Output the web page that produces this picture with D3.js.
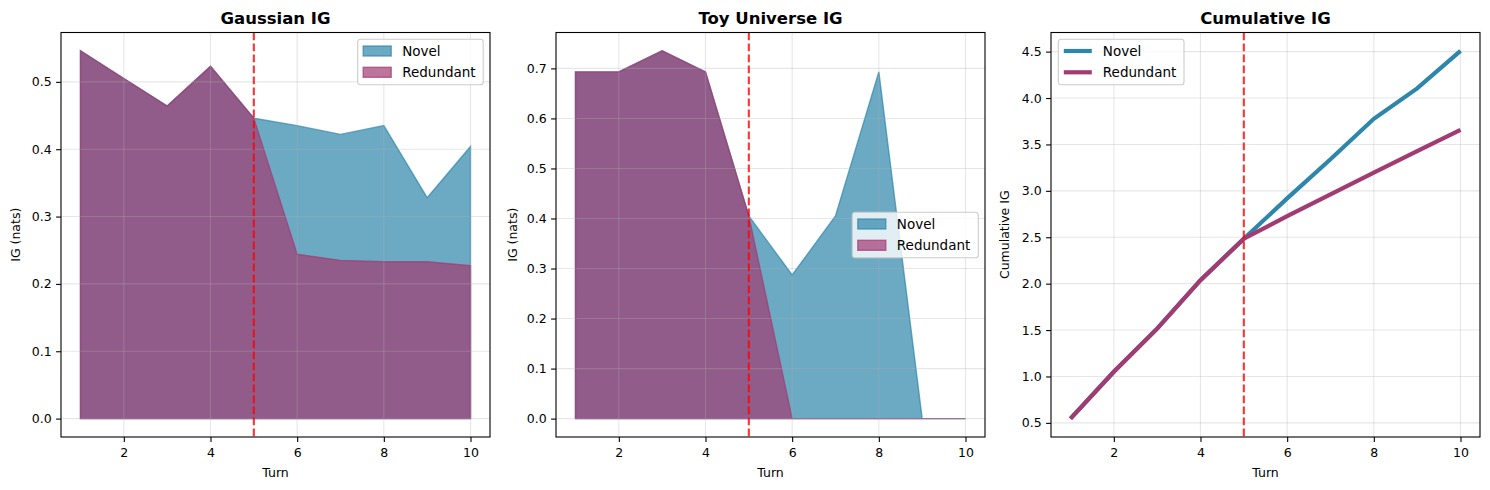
<!DOCTYPE html>
<html>
<head>
<meta charset="utf-8">
<script src="https://cdn.jsdelivr.net/npm/d3@7"></script>
<style>
  body { margin: 0; background: #fff; }
  svg { display: block; font-family: "DejaVu Sans", sans-serif; }
</style>
</head>
<body>
<div id="chart"></div>
<script>
// values
var turns = [1, 2, 3, 4, 5, 6, 7, 8, 9, 10];
var gaussNovel     = [0.546, 0.505, 0.464, 0.523, 0.446, 0.435, 0.422, 0.435, 0.328, 0.404];
var gaussRedundant = [0.546, 0.505, 0.464, 0.523, 0.446, 0.244, 0.235, 0.233, 0.233, 0.227];
var toyNovel       = [0.693, 0.693, 0.735, 0.693, 0.405, 0.287, 0.405, 0.693, 0, 0];
var toyRedundant   = [0.693, 0.693, 0.735, 0.693, 0.405, 0, 0, 0, 0, 0];
var cumNovel       = [0.546, 1.051, 1.515, 2.038, 2.484, 2.919, 3.341, 3.776, 4.104, 4.508];
var cumRedundant   = [0.546, 1.051, 1.515, 2.038, 2.484, 2.728, 2.963, 3.196, 3.429, 3.656];
var xTicks = [2, 4, 6, 8, 10];
var gaussTicks = [0, 0.1, 0.2, 0.3, 0.4, 0.5];
var toyTicks = [0, 0.1, 0.2, 0.3, 0.4, 0.5, 0.6, 0.7];
var cumTicks = [0.5, 1, 1.5, 2, 2.5, 3, 3.5, 4, 4.5];
var seriesNames = ['Novel', 'Redundant'];
var switchTurn = 5;

var blue = '#2E86AB', purple = '#A23B72';

var svg = d3.select('#chart').append('svg')
    .attr('width', 1490)
    .attr('height', 490);
svg.append('rect').attr('width', 1490).attr('height', 490).attr('fill', '#fff');

var top_ = 32.5, bottom = 437;

function makePanel(left, right, yTicks, yMin, yMax, title, ylabel, ylabelX) {
  var x = d3.scaleLinear().domain([0.55, 10.45]).range([left, right]);
  var pad = (yMax - yMin) * 0.05;
  var y = d3.scaleLinear().domain([yMin - pad, yMax + pad]).range([bottom, top_]);
  var g = svg.append('g');

  var layers = {
    back: g.append('g'),
    grid: g.append('g'),
    front: g.append('g'),
    axes: g.append('g')
  };

  // grid
  layers.grid.selectAll('line.gx').data(xTicks).enter().append('line')
    .attr('x1', function(d){ return x(d); }).attr('x2', function(d){ return x(d); })
    .attr('y1', top_).attr('y2', bottom)
    .attr('stroke', '#b0b0b0').attr('stroke-opacity', 0.3).attr('stroke-width', 1.1);
  layers.grid.selectAll('line.gy').data(yTicks).enter().append('line')
    .attr('y1', function(d){ return y(d); }).attr('y2', function(d){ return y(d); })
    .attr('x1', left).attr('x2', right)
    .attr('stroke', '#b0b0b0').attr('stroke-opacity', 0.3).attr('stroke-width', 1.1);

  // axes
  var xAxis = d3.axisBottom(x).tickValues(xTicks).tickSize(4.9).tickPadding(6).tickFormat(d3.format('d'));
  var yAxis = d3.axisLeft(y).tickValues(yTicks).tickSize(4.9).tickPadding(4.5).tickFormat(d3.format('.1f'));
  var ax = layers.axes.append('g').attr('transform', 'translate(0,' + bottom + ')').call(xAxis);
  var ay = layers.axes.append('g').attr('transform', 'translate(' + left + ',0)').call(yAxis);
  [ax, ay].forEach(function(a) {
    a.select('.domain').remove();
    a.selectAll('line').attr('stroke', '#000').attr('stroke-width', 1.1);
    a.selectAll('text').attr('fill', '#000').style('font-size', '12.5px')
      .style('font-family', '"DejaVu Sans", sans-serif');
  });
  layers.axes.append('rect')
    .attr('x', left).attr('y', top_).attr('width', right - left).attr('height', bottom - top_)
    .attr('fill', 'none').attr('stroke', '#000').attr('stroke-width', 1.1);

  layers.axes.append('text')
    .attr('x', (left + right) / 2).attr('y', 24)
    .attr('text-anchor', 'middle').style('font-size', '16.5px').style('font-weight', 'bold')
    .text(title);
  layers.axes.append('text')
    .attr('x', (left + right) / 2).attr('y', 477)
    .attr('text-anchor', 'middle').style('font-size', '12.5px')
    .text('Turn');
  layers.axes.append('text')
    .attr('transform', 'translate(' + ylabelX + ',' + ((top_ + bottom) / 2) + ') rotate(-90)')
    .attr('text-anchor', 'middle').attr('dy', '0.35em').style('font-size', '12.5px')
    .text(ylabel);

  return { g: g, x: x, y: y, layers: layers, left: left, right: right };
}

function drawAreas(p, novel, redundant) {
  var area = d3.area()
    .x(function(d, i){ return p.x(turns[i]); })
    .y0(p.y(0))
    .y1(function(d){ return p.y(d); });
  [[novel, blue], [redundant, purple]].forEach(function(s) {
    p.layers.back.append('path')
      .attr('d', area(s[0]))
      .attr('fill', s[1]).attr('fill-opacity', 0.7)
      .attr('stroke', s[1]).attr('stroke-opacity', 0.7).attr('stroke-width', 1.4);
  });
}

function drawLines(p, novel, redundant) {
  var line = d3.line()
    .x(function(d, i){ return p.x(turns[i]); })
    .y(function(d){ return p.y(d); });
  [[novel, blue], [redundant, purple]].forEach(function(s) {
    p.layers.front.append('path')
      .attr('d', line(s[0]))
      .attr('fill', 'none').attr('stroke', s[1]).attr('stroke-width', 4.2);
  });
}

function drawSwitch(p) {
  p.layers.front.append('line')
    .attr('x1', p.x(switchTurn)).attr('x2', p.x(switchTurn))
    .attr('y1', top_).attr('y2', bottom)
    .attr('stroke', 'red').attr('stroke-opacity', 0.8).attr('stroke-width', 2.1)
    .attr('stroke-dasharray', '7.7,3.3');
}

function drawLegend(p, lx, ly, w, kind) {
  var lg = p.layers.axes.append('g').attr('transform', 'translate(' + lx + ',' + ly + ')');
  lg.append('rect')
    .attr('width', w).attr('height', 45.5).attr('rx', 2.8)
    .attr('fill', '#fff').attr('fill-opacity', 0.8)
    .attr('stroke', '#cccccc').attr('stroke-width', 1.1);
  seriesNames.forEach(function(name, i) {
    var c = i == 0 ? blue : purple;
    var cy = 11.7 + i * 21.3;
    if (kind == 'patch') {
      lg.append('rect')
        .attr('x', 5.5).attr('y', cy - 5).attr('width', 28).attr('height', 10)
        .attr('fill', c).attr('fill-opacity', 0.7)
        .attr('stroke', c).attr('stroke-opacity', 0.7).attr('stroke-width', 1.4);
    } else {
      lg.append('line')
        .attr('x1', 5.5).attr('x2', 33.5).attr('y1', cy).attr('y2', cy)
        .attr('stroke', c).attr('stroke-width', 4.2);
    }
    lg.append('text')
      .attr('x', 44.5).attr('y', cy).attr('dy', '0.35em')
      .style('font-size', '13.5px')
      .text(name);
  });
}

// Gaussian IG
var p1 = makePanel(61, 490, gaussTicks, 0, d3.max(gaussNovel.concat(gaussRedundant)), 'Gaussian IG', 'IG (nats)', 15.7);
drawAreas(p1, gaussNovel, gaussRedundant);
drawSwitch(p1);
drawLegend(p1, 357.7, 39.3, 125.5, 'patch');

// Toy Universe IG
var p2 = makePanel(556, 985, toyTicks, 0, d3.max(toyNovel.concat(toyRedundant)), 'Toy Universe IG', 'IG (nats)', 512.3);
drawAreas(p2, toyNovel, toyRedundant);
drawSwitch(p2);
drawLegend(p2, 852.3, 212.3, 126, 'patch');

// Cumulative IG
var allCum = cumNovel.concat(cumRedundant);
var p3 = makePanel(1051, 1480, cumTicks, d3.min(allCum), d3.max(allCum), 'Cumulative IG', 'Cumulative IG', 1005);
drawLines(p3, cumNovel, cumRedundant);
drawSwitch(p3);
drawLegend(p3, 1058.3, 39.3, 125.7, 'line');
</script>
</body>
</html>
